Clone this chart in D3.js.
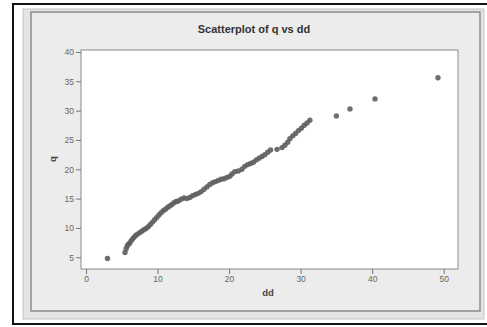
<!DOCTYPE html>
<html>
<head>
<meta charset="utf-8">
<script src="https://cdn.jsdelivr.net/npm/d3@7"></script>
<style>
  body { margin: 0; background: #fff; }
  svg { display: block; font-family: "Liberation Sans", Arial, sans-serif; }
</style>
</head>
<body>
<div id="chart"></div>
<script>
// values
var dd = [3.0, 5.45, 5.6, 5.75, 5.9, 6.1, 6.3, 6.5, 6.7, 6.95, 7.2, 7.5, 7.8, 8.1, 8.4, 8.7,
  9.0, 9.3, 9.6, 9.9, 10.2, 10.5, 10.8, 11.1, 11.4, 11.7, 12.0, 12.3, 12.6, 12.9, 13.3, 13.7,
  14.1, 14.5, 14.9, 15.3, 15.7, 16.1, 16.5, 16.9, 17.3, 17.7, 18.1, 18.5, 18.9, 19.3, 19.7,
  20.1, 20.4, 20.8, 21.3, 21.8, 22.2, 22.6, 23.0, 23.4, 23.8, 24.2, 24.6, 25.0, 25.4, 25.8,
  26.7, 27.4, 27.8, 28.2, 28.5, 28.9, 29.3, 29.7, 30.1, 30.5, 30.9, 31.3, 35.0, 36.9, 40.4, 49.2];
var q = [4.8, 5.8, 6.4, 6.9, 7.2, 7.4, 7.8, 8.1, 8.4, 8.7, 8.95, 9.2, 9.45, 9.7, 9.9, 10.2,
  10.6, 11.0, 11.4, 11.8, 12.2, 12.6, 12.95, 13.2, 13.5, 13.75, 14.0, 14.3, 14.5, 14.6, 14.9, 15.1,
  15.0, 15.2, 15.5, 15.7, 15.9, 16.2, 16.6, 17.0, 17.4, 17.7, 17.9, 18.1, 18.3, 18.4, 18.6,
  18.8, 19.2, 19.6, 19.7, 20.0, 20.5, 20.8, 21.0, 21.2, 21.6, 21.9, 22.2, 22.5, 22.9, 23.3,
  23.4, 23.7, 24.1, 24.6, 25.2, 25.7, 26.1, 26.6, 27.0, 27.5, 27.9, 28.35, 29.1, 30.3, 32.0, 35.6];
var xTicks = [0, 10, 20, 30, 40, 50];
var yTicks = [5, 10, 15, 20, 25, 30, 35, 40];

var W = 487, H = 327;
var margin = {left: 81, right: 458, top: 50, bottom: 269};

var svg = d3.select("#chart").append("svg")
    .attr("width", W)
    .attr("height", H);

// frame + grey panel
svg.append("rect").attr("x", 13).attr("y", 4).attr("width", 480).attr("height", 320)
    .attr("fill", "#fff").attr("stroke", "#111").attr("stroke-width", 2);
svg.append("rect").attr("x", 23).attr("y", 9).attr("width", 461).attr("height", 310)
    .attr("fill", "#e4e4e4").attr("stroke", "#c4c4c4");
svg.append("rect").attr("x", 31).attr("y", 12).attr("width", 449).attr("height", 299)
    .attr("fill", "#ececec").attr("stroke", "#8c8c8c").attr("stroke-width", 1.5);

svg.append("rect").attr("x", margin.left).attr("y", margin.top)
    .attr("width", margin.right - margin.left).attr("height", margin.bottom - margin.top)
    .attr("fill", "#fff").attr("stroke", "#8a8a8a");

var x = d3.scaleLinear().domain([-0.7, 52.0]).range([margin.left, margin.right]);
var y = d3.scaleLinear().domain([3.0, 40.34]).range([margin.bottom, margin.top]);

var xAxis = svg.append("g")
    .attr("transform", "translate(0," + margin.bottom + ")")
    .call(d3.axisBottom(x).tickValues(xTicks).tickSize(5).tickPadding(2));
var yAxis = svg.append("g")
    .attr("transform", "translate(" + margin.left + ",0)")
    .call(d3.axisLeft(y).tickValues(yTicks).tickSize(5).tickPadding(2));

[xAxis, yAxis].forEach(function(g) {
  g.select(".domain").remove();
  g.selectAll("line").attr("stroke", "#777");
  g.selectAll("text").attr("fill", "#666").style("font-size", "8.5px");
});

svg.append("g").selectAll("circle")
    .data(dd)
  .enter().append("circle")
    .attr("cx", function(d) { return x(d); })
    .attr("cy", function(d, i) { return y(q[i]); })
    .attr("r", 2.7)
    .attr("fill", "#5e5e5e")
    .attr("fill-opacity", 0.9);

svg.append("text")
    .attr("x", 254).attr("y", 33)
    .attr("text-anchor", "middle")
    .style("font-size", "11px").style("font-weight", "bold")
    .attr("fill", "#333")
    .text("Scatterplot of q vs dd");

svg.append("text")
    .attr("x", 268).attr("y", 296)
    .attr("text-anchor", "middle")
    .style("font-size", "9.5px").style("font-weight", "bold")
    .attr("fill", "#444")
    .text("dd");

svg.append("text")
    .attr("transform", "translate(56,159) rotate(-90)")
    .attr("text-anchor", "middle")
    .style("font-size", "9.5px").style("font-weight", "bold")
    .attr("fill", "#444")
    .text("q");
</script>
</body>
</html>
